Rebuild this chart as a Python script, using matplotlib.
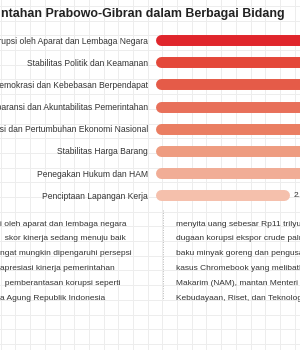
import matplotlib.pyplot as plt

# data
bidang = ['Pemberantasan Korupsi oleh Aparat dan Lembaga Negara',
          'Stabilitas Politik dan Keamanan',
          'Demokrasi dan Kebebasan Berpendapat',
          'Transparansi dan Akuntabilitas Pemerintahan',
          'Stabilisasi dan Pertumbuhan Ekonomi Nasional',
          'Stabilitas Harga Barang',
          'Penegakan Hukum dan HAM',
          'Penciptaan Lapangan Kerja']
skor = [3.62, 3.55, 3.48, 3.44, 3.40, 3.36, 3.31, 2.90]
warna = ['#E0262C', '#E4483A', '#E55B48', '#E8705A',
         '#EA7E62', '#EE9C80', '#F1AD96', '#F5C0AC']

title = 'ntahan Prabowo-Gibran dalam Berbagai Bidang'

teks_kiri = ['i oleh aparat dan lembaga negara',
             '  skor kinerja sedang menuju baik',
             'ngat mungkin dipengaruhi persepsi',
             'apresiasi kinerja pemerintahan',
             '  pemberantasan korupsi seperti',
             'a Agung Republik Indonesia']
teks_kanan = ['menyita uang sebesar Rp11 trilyun',
              'dugaan korupsi ekspor crude palm',
              'baku minyak goreng dan pengusaha',
              'kasus Chromebook yang melibatkan',
              'Makarim (NAM), mantan Menteri',
              'Kebudayaan, Riset, dan Teknologi']

W, H = 300, 350
fig = plt.figure(figsize=(3, 3.5), dpi=100)
fig.patch.set_facecolor('white')

# background in pixel coords (graph paper)
bg = fig.add_axes([0, 0, 1, 1])
bg.set_xlim(0, W)
bg.set_ylim(H, 0)
bg.axis('off')
step = 14.7
gx = 0.7
while gx < W:
    bg.axvline(gx, color='#EDEDED', lw=0.7, zorder=0)
    gx += step
gy = 5.9
while gy < H:
    bg.axhline(gy, color='#EDEDED', lw=0.7, zorder=0)
    gy += step

bg.text(1, 14, title, fontsize=8.9, fontweight='bold', color='#222222',
        ha='left', va='center', family='Liberation Sans')

# bottom text columns
for i, t in enumerate(teks_kiri):
    bg.text(0, 224 + i * 14.8, t, fontsize=6.05, color='#333333',
            ha='left', va='center', family='Liberation Sans')
for i, t in enumerate(teks_kanan):
    bg.text(176.5, 224 + i * 14.8, t, fontsize=6.05, color='#333333',
            ha='left', va='center', family='Liberation Sans')
bg.plot([162.5, 162.5], [210, 300], color='#BBBBBB', lw=0.7,
        linestyle=(0, (1, 1.5)))

# bars
px_per_unit = 42.4
left_px = 160.8
row_h = 22.2
top_px = 40 - row_h / 2
n = len(bidang)
ax = fig.add_axes([left_px / W, 1 - (top_px + n * row_h) / H,
                   5 * px_per_unit / W, n * row_h / H])
ax.set_xlim(0, 5)
ax.set_ylim(n - 0.5, -0.5)
ax.patch.set_alpha(0)
for s in ax.spines.values():
    s.set_visible(False)
ax.set_xticks([])

for i, (v, c) in enumerate(zip(skor, warna)):
    ax.plot([0, v], [i, i], color=c, lw=7.9, solid_capstyle='round', clip_on=False)
    ax.annotate(f'{v:.2f}', (v, i), xytext=(7.0, 0), textcoords='offset points',
                fontsize=6.05, color='#333333', va='center', ha='left',
                family='Liberation Sans')

ax.set_yticks(range(n))
ax.set_yticklabels(bidang, fontsize=6.15, color='#333333', family='Liberation Sans')
ax.tick_params(axis='y', length=0, pad=9.2)

fig.savefig('out.png', dpi=100, facecolor='white')
